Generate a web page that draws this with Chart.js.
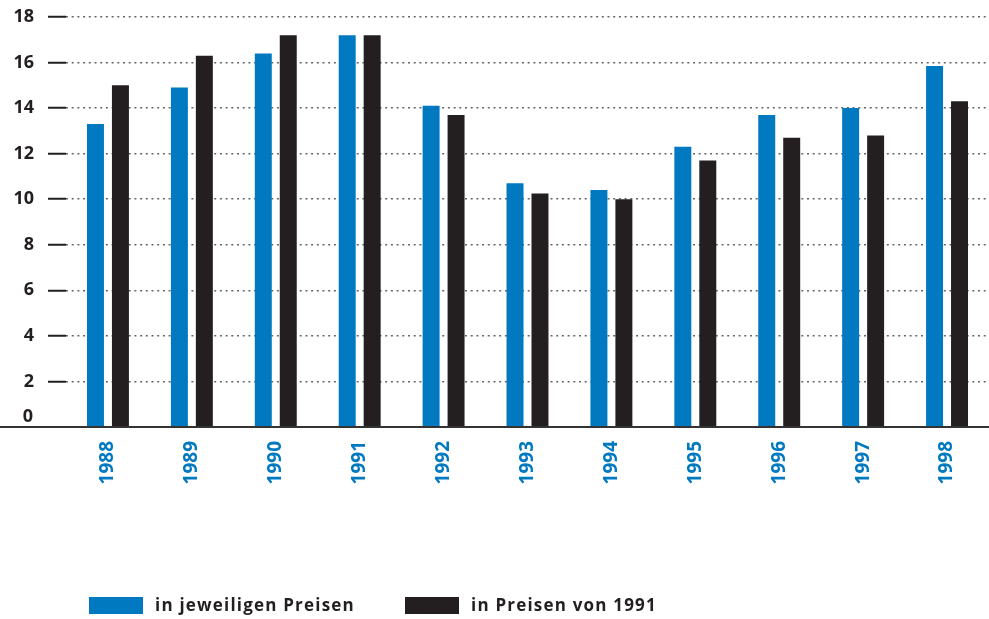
<!DOCTYPE html>
<html><head><meta charset="utf-8">
<script src="https://cdn.jsdelivr.net/npm/chart.js@4/dist/chart.umd.min.js"></script>
<style>html,body{margin:0;padding:0;background:#fff}#wrap{width:989px;height:619px}</style>
</head><body><div id="wrap"><canvas id="c" width="989" height="619"></canvas></div>
<script>
const categories = ['1988','1989','1990','1991','1992','1993','1994','1995','1996','1997','1998'];
const currentPrices = [13.3,14.9,16.4,17.2,14.1,10.7,10.4,12.3,13.7,14.0,15.85];
const prices1991 = [15.0,16.3,17.2,17.2,13.7,10.25,10.0,11.7,12.7,12.8,14.3];
const seriesNames = ['in jeweiligen Preisen','in Preisen von 1991'];
const yTicks = [0,2,4,6,8,10,12,14,16,18];

const BLUE = '#0079c1', DARK = '#231f20';
const FONT = 'Open Sans';

const extras = {
  id: 'extras',
  afterDraw(chart) {
    const ctx = chart.ctx;
    const y0 = chart.scales.y.getPixelForValue(0);
    ctx.save();
    ctx.strokeStyle = '#333';
    ctx.lineWidth = 2;
    ctx.beginPath();
    ctx.moveTo(0, y0);
    ctx.lineTo(chart.width, y0);
    ctx.stroke();
    ctx.fillStyle = DARK;
    ctx.font = 'bold 18px "' + FONT + '"';
    ctx.textAlign = 'right';
    ctx.textBaseline = 'middle';
    ctx.fillText(String(yTicks[0]), 33, y0 - 10);
    const starts = [89, 405];
    ctx.font = 'bold 17px "' + FONT + '"';
    ctx.textAlign = 'left';
    if ('letterSpacing' in ctx) ctx.letterSpacing = '1.2px';
    chart.data.datasets.forEach((ds, i) => {
      const x = starts[i];
      ctx.fillStyle = ds.backgroundColor;
      ctx.fillRect(x, 597, 54, 17);
      ctx.fillStyle = DARK;
      ctx.fillText(ds.label, x + 66, 606);
    });
    ctx.restore();
  }
};

new Chart(document.getElementById('c'), {
  type: 'bar',
  data: {
    labels: categories,
    datasets: [
      { label: seriesNames[0], data: currentPrices, backgroundColor: BLUE, categoryPercentage: 0.595, barPercentage: 0.68 },
      { label: seriesNames[1], data: prices1991, backgroundColor: DARK, categoryPercentage: 0.595, barPercentage: 0.68 }
    ]
  },
  options: {
    responsive: false,
    animation: false,
    layout: { padding: { top: 17, right: 0, left: 0, bottom: 0 } },
    plugins: {
      tooltip: { enabled: false },
      legend: { display: false }
    },
    scales: {
      x: {
        grid: { display: false },
        border: { display: false },
        ticks: {
          maxRotation: 90, minRotation: 90, padding: 6,
          color: BLUE,
          font: { family: FONT, weight: 'bold', size: 19 }
        },
        afterFit(scale) { scale.height = 192; }
      },
      y: {
        z: 1,
        min: 0, max: 18,
        afterBuildTicks(scale) { scale.ticks = yTicks.map(v => ({ value: v })); },
        afterFit(scale) { scale.width = 66; scale.paddingTop = 0; scale.paddingBottom = 0; },
        border: { display: false, dash: [2, 3.7] },
        grid: {
          color: ctx => (ctx.tick && ctx.tick.value === 0) ? 'rgba(0,0,0,0)' : 'rgba(50,50,50,0.75)',
          lineWidth: 1.5,
          tickLength: 18,
          tickWidth: 2,
          tickColor: ctx => (ctx.tick && ctx.tick.value === 0) ? 'rgba(0,0,0,0)' : '#231f20',
          tickBorderDash: []
        },
        ticks: {
          padding: 14,
          color: DARK,
          font: { family: FONT, weight: 'bold', size: 18 },
          callback: v => v === 0 ? '' : String(v)
        }
      }
    }
  },
  plugins: [extras]
});
</script>
</body></html>
